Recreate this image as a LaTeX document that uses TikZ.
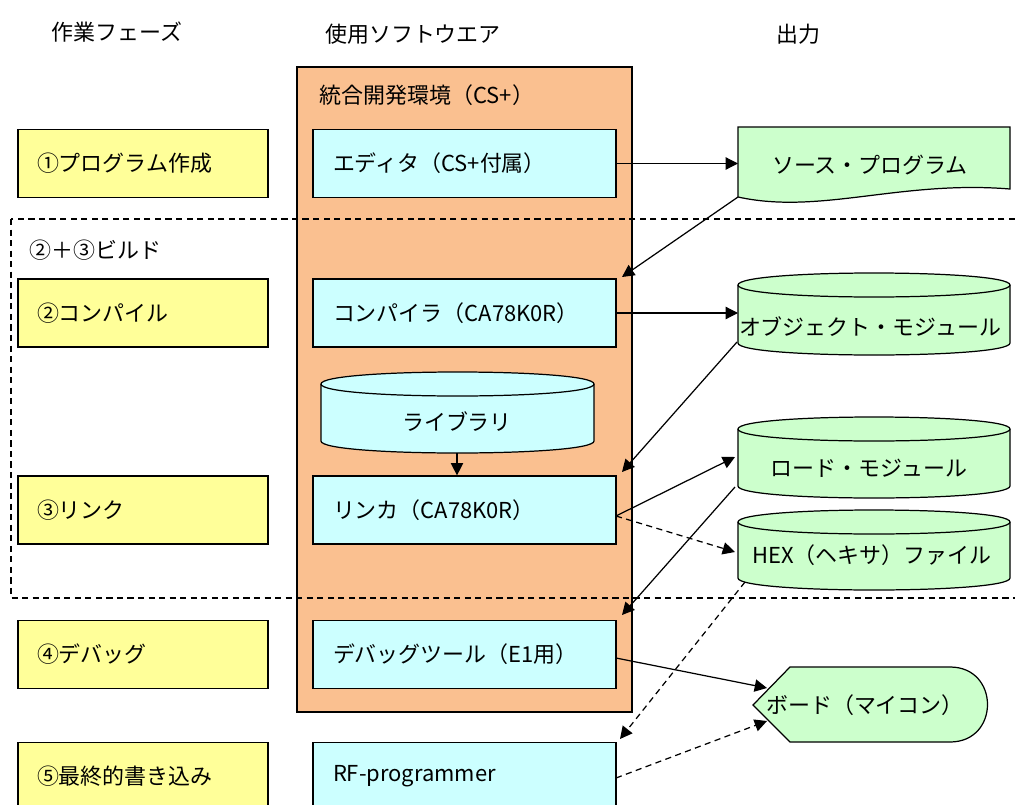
\documentclass[tikz,border=0pt]{standalone}
\usepackage{fontspec}
\setmainfont{Noto Sans CJK JP}
\usetikzlibrary{arrows.meta}
\usetikzlibrary{calc}

\definecolor{phasecol}{RGB}{255,255,153}
\definecolor{toolcol}{RGB}{204,255,255}
\definecolor{idecol}{RGB}{250,192,144}
\definecolor{outcol}{RGB}{204,255,204}

\tikzset{
  phase/.style={draw, rectangle, fill=phasecol, minimum width=5cm, minimum height=1.36cm,
    text width=4.24cm, inner xsep=0.38cm, align=left},
  tool/.style={draw, rectangle, fill=toolcol, minimum width=6.06cm, minimum height=1.36cm,
    text width=5.26cm, inner xsep=0.4cm, align=left},
  flow/.style={-{Triangle[length=7pt,width=7pt]}},
  dflow/.style={flow, dash pattern=on 3.5pt off 2.5pt},
}

% cylinder: fill, x1, top, x2, bottom
\newcommand{\drum}[5]{%
  \filldraw[fill=#1] (#2,#3+12) -- (#2,#5-12) .. controls (#2,#5+4) and (#4,#5+4) .. (#4,#5-12)
    -- (#4,#3+12) .. controls (#4,#3-4) and (#2,#3-4) .. cycle;
  \draw (#2,#3+12) .. controls (#2,#3+28) and (#4,#3+28) .. (#4,#3+12);}

\begin{document}
\begin{tikzpicture}[x=0.02cm, y=-0.02cm, line width=0.7pt, font=\fontsize{12.5}{15}\selectfont]
  \useasboundingbox (0,0) rectangle (1015,805);

  % column heads
  \node (hphase) at (117,32) {作業フェーズ};
  \node (htool) at (413,34) {使用ソフトウエア};
  \node (hout) at (798,34) {出力};

  % IDE frame
  \node[draw, rectangle, fill=idecol, minimum width=6.7cm, minimum height=12.9cm] (ide) at (464.5,389.5) {};
  \node[anchor=west, inner sep=0pt] (idelabel) at (319,95) {統合開発環境（CS+）};

  % build area
  \draw[dash pattern=on 3.5pt off 2.5pt] (11,219) rectangle (1030,598);
  \node[anchor=west, inner sep=0pt] (build) at (29,250) {②＋③ビルド};

  % phases
  \node[phase] (p1) at (143,163.5) {①プログラム作成};
  \node[phase] (p2) at (143,313) {②コンパイル};
  \node[phase] (p3) at (143,510) {③リンク};
  \node[phase] (p4) at (143,654.5) {④デバッグ};
  \node[phase] (p5) at (143,776.5) {⑤最終的書き込み};

  % tools
  \node[tool] (editor) at (464.5,163.5) {エディタ（CS+付属）};
  \node[tool] (comp) at (464.5,313) {コンパイラ（CA78K0R）};
  \node[tool] (link) at (464.5,510) {リンカ（CA78K0R）};
  \node[tool] (debug) at (464.5,654.5) {デバッグツール（E1用）};
  \node[tool] (rfprog) at (464.5,776.5) {RF-programmer};

  \drum{toolcol}{321}{372}{594}{453}
  \node (lib) at (457,422) {ライブラリ};
  \coordinate (lib-s) at (457,453);
  \draw[flow] (lib-s) -- (link.north -| lib-s);

  % outputs
  \filldraw[fill=outcol] (738,127) -- (1010,127) -- (1010,189)
    .. controls (900,180) and (820,215) .. (738,197) -- cycle;
  \node (src) at (870,165) {ソース・プログラム};
  \drum{outcol}{738}{273}{1010}{355}
  \node (obj) at (870,327) {オブジェクト・モジュール};
  \drum{outcol}{738}{417}{1010}{498}
  \node (load) at (869,468) {ロード・モジュール};
  \drum{outcol}{738}{510}{1010}{590}
  \node (hex) at (872,555) {HEX（ヘキサ）ファイル};
  \filldraw[fill=outcol] (753,705) -- (790,667) -- (950,667)
    .. controls (1000,667) and (1000,742) .. (950,742) -- (790,742) -- cycle;
  \node (board) at (865,705) {ボード（マイコン）};

  % connector ends
  \coordinate (src-w) at (738,163.5);
  \coordinate (src-sw) at (738,197);
  \coordinate (obj-w) at (738,313);
  \coordinate (obj-sw) at (737,342);
  \coordinate (load-w) at (735,457);
  \coordinate (load-sw) at (735,487);
  \coordinate (hex-w) at (735,552);
  \coordinate (hex-sw) at (745,582);
  \coordinate (board-a) at (767,688);
  \coordinate (board-b) at (767,721);
  \coordinate (comp-ne) at (622,277);
  \coordinate (link-ne) at (622,472);
  \coordinate (link-e) at (616,516);
  \coordinate (debug-ne) at (622,615);
  \coordinate (debug-e) at (616,658);
  \coordinate (rf-ne) at (620,739);
  \coordinate (rf-e) at (616,778);

  \draw[flow] (editor.east) -- (src-w);
  \draw[flow] (src-sw) -- (comp-ne);
  \draw[flow] (comp.east) -- (obj-w);
  \draw[flow] (obj-sw) -- (link-ne);
  \draw[flow] (link-e) -- (load-w);
  \draw[dflow] (link-e) -- (hex-w);
  \draw[flow] (load-sw) -- (debug-ne);
  \draw[dflow] (hex-sw) -- (rf-ne);
  \draw[flow] (debug-e) -- (board-a);
  \draw[dflow] (rf-e) -- (board-b);
\end{tikzpicture}
\end{document}
